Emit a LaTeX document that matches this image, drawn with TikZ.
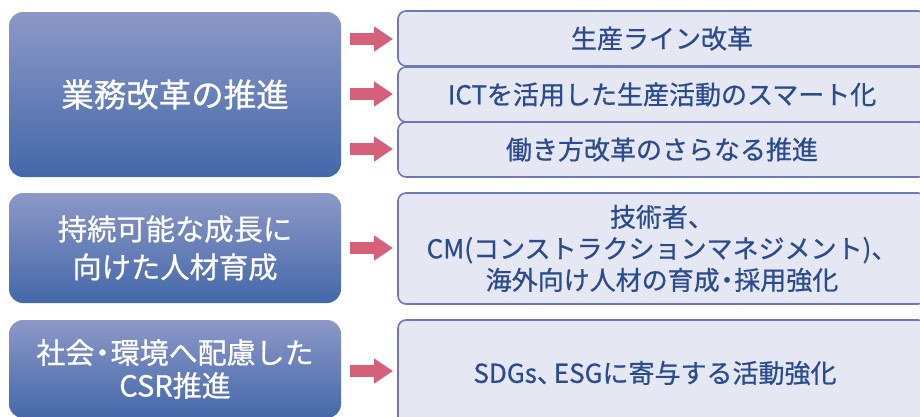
\documentclass[tikz,border=0pt]{standalone}
\usepackage{fontspec}
\newfontfamily\jp[FakeBold=0.7]{Noto Sans CJK JP}
\usetikzlibrary{arrows.meta}
\definecolor{ltop}{HTML}{8C98C7}
\definecolor{lbot}{HTML}{4468A9}
\definecolor{rfill}{HTML}{E5E7F3}
\definecolor{rdraw}{HTML}{6F77B6}
\definecolor{rtext}{HTML}{2A4B8D}
\definecolor{arr}{HTML}{D65F7A}
\newcommand{\ndot}{{\kern-0.22em}・{\kern-0.22em}}
\newcommand{\ncomma}{、{\kern-0.35em}}
\tikzset{
  leftbox/.style={rounded corners=14pt, top color=ltop, bottom color=lbot, draw=none,
    minimum width=332pt, inner sep=0pt, text=white, align=center},
  rightbox/.style={rounded corners=8pt, fill=rfill, draw=rdraw, line width=1.6pt,
    minimum width=528pt, inner sep=0pt, text=rtext, align=center,
    font=\jp\fontsize{26}{31.5}\selectfont},
  pinkarrow/.style={arr, line width=12pt,
    -{Triangle[length=19pt,width=24pt]}}
}
\begin{document}
\begin{tikzpicture}[x=1pt,y=-1pt]
\useasboundingbox (0,0) rectangle (920,416);
\clip (0,0) rectangle (920,416);
% left boxes
\node[leftbox, minimum height=165pt, font=\jp\fontsize{32.5}{38}\selectfont] (L1) at (175,94.5) {業務改革の推進};
\node[leftbox, minimum height=110pt, font=\jp\fontsize{29.3}{38}\selectfont] (L2) at (175,248) {持続可能な成長に\\向けた人材育成};
\node[leftbox, minimum height=98pt, font=\jp\fontsize{29}{33}\selectfont] (L3) at (175,369) {社会\ndot 環境へ配慮した\\CSR推進};
% right boxes
\node[rightbox, minimum height=55pt] (R1) at (662,38.5) {生産ライン改革};
\node[rightbox, minimum height=55pt] (R2) at (662,94.5) {ICTを活用した生産活動のスマート化};
\node[rightbox, minimum height=55pt] (R3) at (662,149.5) {働き方改革のさらなる推進};
\node[rightbox, minimum height=111pt] (R4) at (662,248.5) {技術者、\\CM(コンストラクションマネジメント)、\\海外向け人材の育成\ndot 採用強化};
\node[rightbox, minimum height=110pt] (R5) at (662,375) {};
\node[text=rtext, font=\jp\fontsize{26}{31.5}\selectfont, inner sep=0pt] (R5t) at (655,373) {SDGs\ncomma ESGに寄与する活動強化};
% arrows
\foreach \n/\y in {1/39,2/94,3/149,4/248,5/371}{
  \coordinate (s\n) at (350,\y);
  \coordinate (e\n) at (393,\y);
  \draw[pinkarrow] (s\n) -- (e\n);
}
\end{tikzpicture}
\end{document}
